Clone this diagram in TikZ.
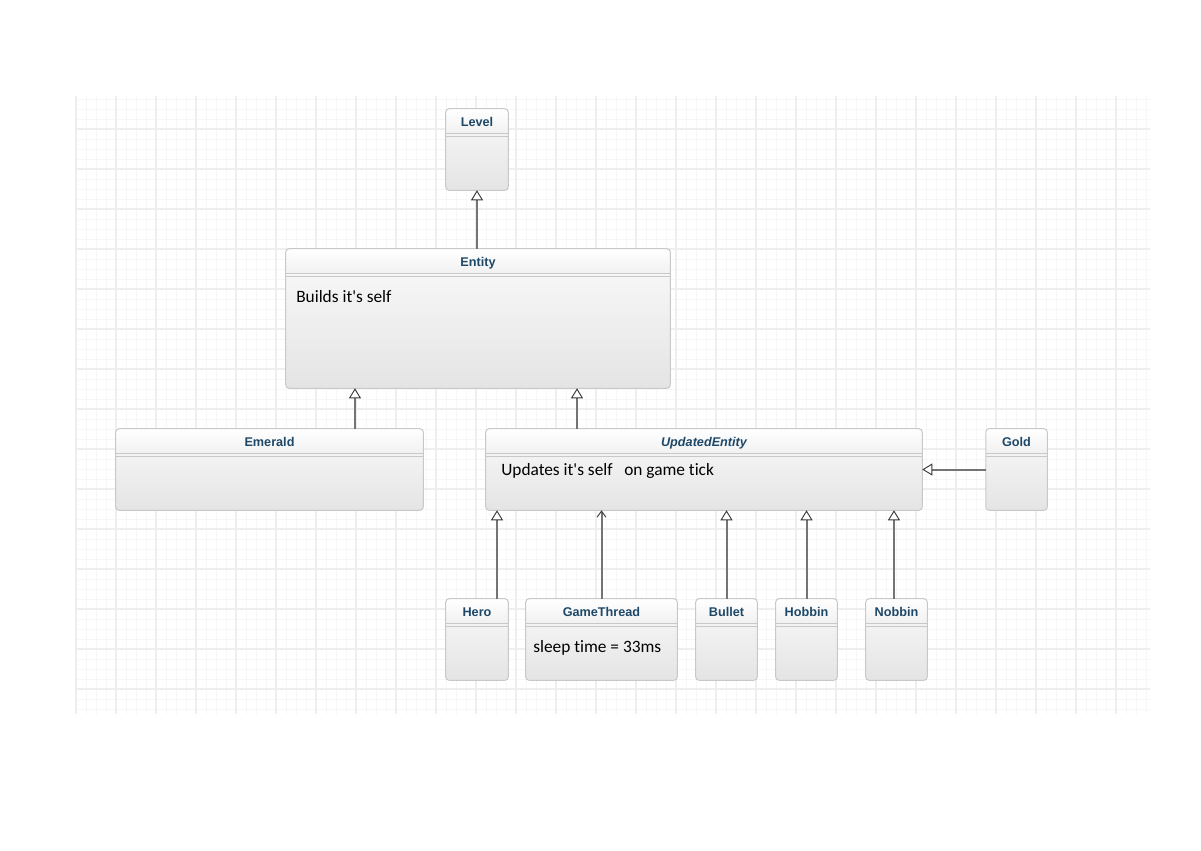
\documentclass[tikz,border=0pt]{standalone}
\usepackage{fontspec}
\setmainfont{Carlito}[Ligatures={NoCommon}]
\newfontfamily\titlefont{Liberation Sans}
\usetikzlibrary{arrows.meta,calc}

\definecolor{gridminor}{HTML}{F7F7F7}
\definecolor{gridmajor}{HTML}{EEEEEE}
\definecolor{boxedge}{HTML}{C8C8C8}
\definecolor{boxtop}{HTML}{FAFAFA}
\definecolor{boxbottom}{HTML}{E4E4E4}
\definecolor{headtop}{HTML}{FFFFFF}
\definecolor{headbottom}{HTML}{F1F1F1}
\definecolor{titleblue}{HTML}{1E4868}
\definecolor{linkgray}{HTML}{747474}
\definecolor{tipgray}{HTML}{3A3A3A}

\tikzset{
  classshape/.style={rectangle, inner sep=0pt, rounded corners=2.5pt,
    top color=boxtop, bottom color=boxbottom},
  classtitle/.style={anchor=base, inner sep=0pt, text=titleblue,
    font=\titlefont\bfseries\fontsize{9.5}{11}\selectfont},
  bodytext/.style={anchor=base west, inner sep=0pt, text=black,
    font=\fontsize{13}{15}\selectfont},
  gen/.style={draw=linkgray, line width=1.5pt,
    -{Triangle[length=7.5pt, width=9pt, fill=white, color=tipgray, line width=0.7pt]}},
  assoc/.style={draw=linkgray, line width=1.5pt,
    -{Straight Barb[length=4.5pt, width=6.5pt, color=tipgray, line width=0.7pt]}},
  minorline/.style={draw=gridminor, line width=0.75pt},
  majorline/.style={draw=gridmajor, line width=1.2pt},
}

% a UML class: name, left, top, right, bottom, title
\newcommand\classbox[6]{%
  \node[classshape, minimum width={(#4-#2)*0.75pt}, minimum height={(#5-#3)*0.75pt}]
    (#1) at ({(#2+#4)/2},{(#3+#5)/2}) {};
  \shade[top color=headtop, bottom color=headbottom, rounded corners=2.5pt]
    (#2,#3) rectangle (#4,{#3+24});
  \draw[boxedge, line width=0.75pt] (#2,{#3+24}) -- (#4,{#3+24}) (#2,{#3+27}) -- (#4,{#3+27});
  \draw[boxedge, line width=0.75pt, rounded corners=2.5pt] (#1.north west) rectangle (#1.south east);
  \node[classtitle] (#1-title) at ({(#2+#4)/2},{#3+17}) {#6};
}

\begin{document}
\begin{tikzpicture}[x=0.75pt, y=-0.75pt]
  \path[use as bounding box, fill=white] (0,0) rectangle (1201,850);

  % background grid
  \foreach \gx in {76,86,...,1146} \draw[minorline] (\gx,96) -- (\gx,714);
  \foreach \gy in {99,109,...,709} \draw[minorline] (75,\gy) -- (1150,\gy);
  \foreach \gx in {76,116,...,1116} \draw[majorline] (\gx,96) -- (\gx,714);
  \foreach \gy in {129,169,...,689} \draw[majorline] (75,\gy) -- (1150,\gy);

  % classes
  \classbox{level}{446}{109}{508}{190}{Level}
  \classbox{entity}{286}{249}{670}{388}{Entity}
  \classbox{emerald}{116}{429}{423}{510}{Emerald}
  \classbox{updated}{486}{429}{922}{510}{\itshape UpdatedEntity}
  \classbox{gold}{986}{429}{1047}{510}{Gold}
  \classbox{hero}{446}{599}{508}{680}{Hero}
  \classbox{gamethread}{526}{599}{677}{680}{GameThread}
  \classbox{bullet}{696}{599}{757}{680}{Bullet}
  \classbox{hobbin}{776}{599}{837}{680}{Hobbin}
  \classbox{nobbin}{866}{599}{927}{680}{Nobbin}

  % notes inside the classes
  \node[bodytext] (entity-note) at (296,302) {Builds it\textquotesingle s self};
  \node[bodytext] (updated-note) at (501,475) {Updates it\textquotesingle s self};
  \node[bodytext] (updated-note2) at (624,475) {on game tick};
  \node[bodytext] (gamethread-note) at (533,652) {sleep time = 33ms};

  % generalisations
  \draw[gen] (entity.north -| level.south) -- (level.south);
  \draw[gen] ([xshift=64.1pt]emerald.north) -- ([xshift=64.1pt]emerald.north |- entity.south);
  \draw[gen] ([xshift=-95.25pt]updated.north) -- ([xshift=-95.25pt]updated.north |- entity.south);
  \draw[gen] (gold.west) -- (gold.west -| updated.east);
  \draw[gen] ([xshift=15pt]hero.north) -- ([xshift=15pt]hero.north |- updated.south);
  \draw[gen] (bullet.north) -- (bullet.north |- updated.south);
  \draw[gen] (hobbin.north) -- (hobbin.north |- updated.south);
  \draw[gen] ([xshift=-1.9pt]nobbin.north) -- ([xshift=-1.9pt]nobbin.north |- updated.south);

  % association
  \draw[assoc] (gamethread.north) -- (gamethread.north |- updated.south);
\end{tikzpicture}
\end{document}
